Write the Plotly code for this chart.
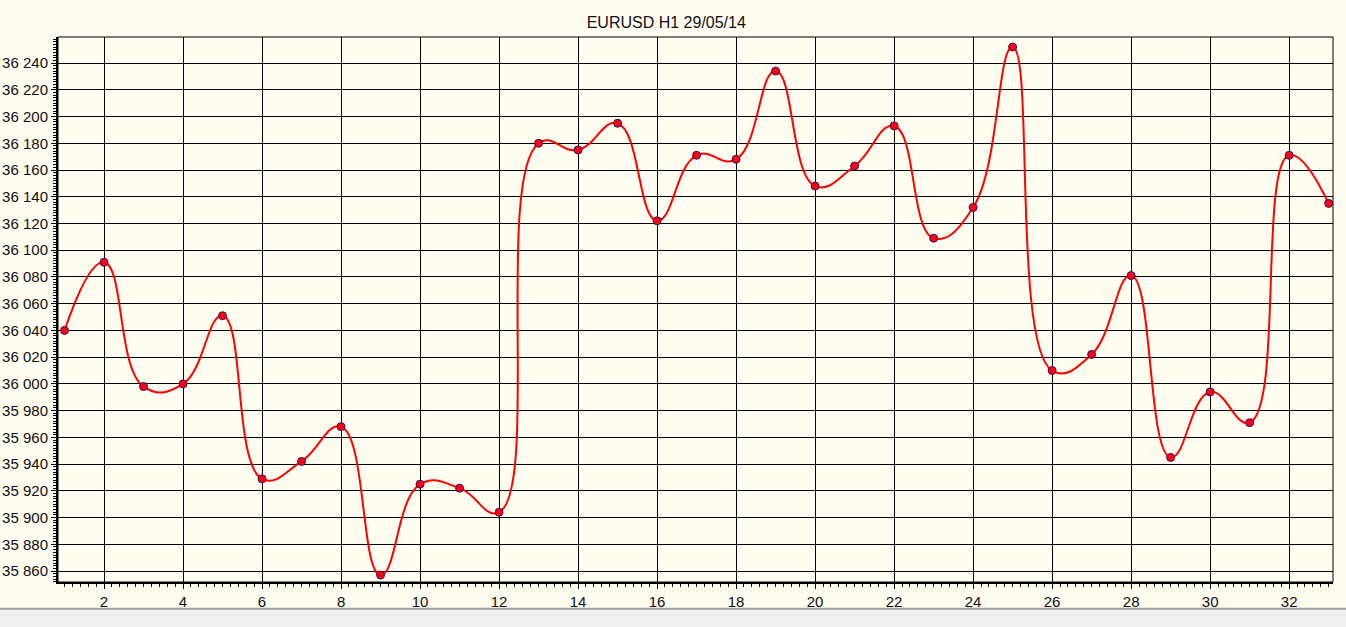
import plotly.graph_objects as go

hours = list(range(1, 34))
prices = [36040, 36091, 35998, 36000, 36051, 35929, 35942, 35968, 35857, 35925,
          35922, 35904, 36180, 36175, 36195, 36122, 36171, 36168, 36234, 36148,
          36163, 36193, 36109, 36132, 36252, 36010, 36022, 36081, 35945, 35994,
          35971, 36171, 36135]
title_text = "EURUSD H1 29/05/14"

bg = "#FFFCF0"
fig = go.Figure()
fig.add_trace(go.Scatter(
    x=hours, y=prices, mode="lines+markers",
    line=dict(color="#FF0000", width=2, shape="spline", smoothing=1.3),
    marker=dict(color="#FF0010", size=8, line=dict(color="#3A1060", width=1)),
    showlegend=False, hoverinfo="x+y",
))

fig.update_layout(
    width=1346, height=627,
    margin=dict(l=58, r=13, t=37, b=45, autoexpand=False),
    paper_bgcolor=bg, plot_bgcolor=bg,
    separators=". ",
    font=dict(family="Liberation Sans, Arial, sans-serif", size=15, color="#101010"),
    title=dict(text=title_text, x=0.495, xanchor="center", xref="container",
               y=1 - 22 / 627, yanchor="middle", yref="container",
               font=dict(size=16, color="#101010")),
    xaxis=dict(range=[0.835, 33.11], tick0=0, dtick=2, showgrid=True, automargin=False,
               gridcolor="black", gridwidth=1, zeroline=False,
               showline=True, linecolor="black", linewidth=2,
               ticks="outside", ticklen=5, tickcolor="black", tickwidth=1,
               minor=dict(dtick=0.2, ticks="outside", ticklen=3, tickcolor="black", showgrid=False)),
    yaxis=dict(range=[35851.8, 36259.5], tick0=0, dtick=20, tickformat=",d", automargin=False,
               showgrid=True, gridcolor="black", gridwidth=1, zeroline=False,
               showline=True, linecolor="black", linewidth=2,
               ticks="outside", ticklen=5, tickcolor="black", tickwidth=1,
               minor=dict(dtick=2, ticks="outside", ticklen=3, tickcolor="black", showgrid=False)),
    shapes=[
        dict(type="rect", xref="paper", yref="paper", x0=0, x1=1, y0=0, y1=1,
             line=dict(color="black", width=1), layer="above"),
        dict(type="rect", xref="paper", yref="paper",
             x0=-58 / 1275, x1=(1346 - 58) / 1275 + 0.01,
             y0=(581.7 - 640) / 544.7, y1=(581.7 - 608.5) / 544.7,
             fillcolor="#F0F0F0", line=dict(width=0), layer="above"),
        dict(type="line", xref="paper", yref="paper",
             x0=-58 / 1275, x1=(1346 - 58) / 1275 + 0.01,
             y0=(581.7 - 608.5) / 544.7, y1=(581.7 - 608.5) / 544.7,
             line=dict(color="#A0A0A0", width=2), layer="above"),
    ],
)

fig.write_html("out.html")
